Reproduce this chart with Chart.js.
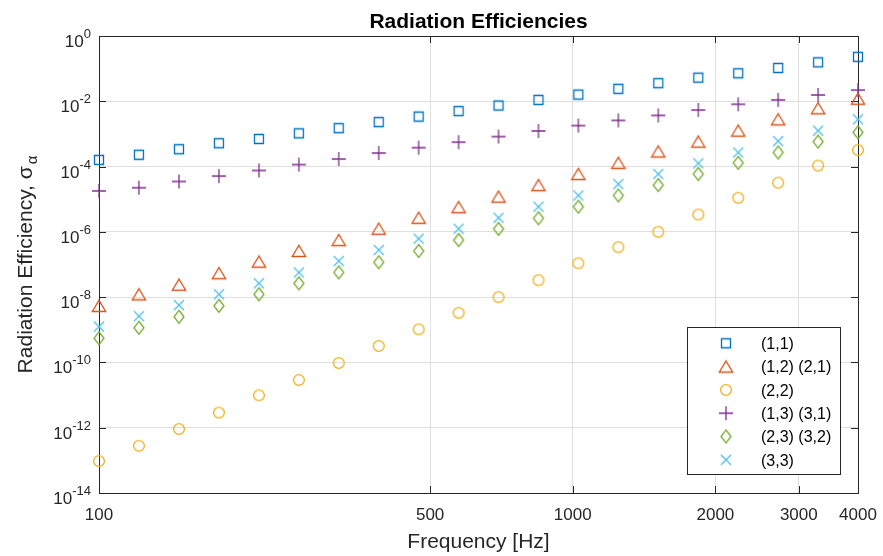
<!DOCTYPE html>
<html>
<head>
<meta charset="utf-8">
<script src="https://cdn.jsdelivr.net/npm/chart.js@4/dist/chart.umd.min.js"></script>
<style>
  html, body { margin: 0; padding: 0; background: #ffffff; }
  #wrap { width: 883px; height: 556px; }
</style>
</head>
<body>
<div id="wrap"><canvas id="chart" width="883" height="556"></canvas></div>
<script>
// Band centre frequencies [Hz]
const freqHz = [100, 121.4, 147.5, 179.1, 217.5, 264.1, 320.6, 389.4, 472.9, 574.2,
                697.1, 846.5, 1027.6, 1247.9, 1515.4, 1840.3, 2234.6, 2713.5, 3295.2, 4000];

// Radiation efficiency per plate mode
const mode11 = [1.6e-4, 2.3e-4, 3.4e-4, 5.2e-4, 7.0e-4, 1.04e-3, 1.5e-3, 2.3e-3, 3.4e-3, 5.0e-3,
                7.4e-3, 1.1e-2, 1.6e-2, 2.4e-2, 3.6e-2, 5.3e-2, 7.2e-2, 1.05e-1, 1.56e-1, 2.3e-1];
const mode12 = [5.4e-9, 1.22e-8, 2.4e-8, 5.4e-8, 1.22e-7, 2.6e-7, 5.6e-7, 1.25e-6, 2.7e-6, 5.7e-6,
                1.2e-5, 2.7e-5, 5.9e-5, 1.3e-4, 2.9e-4, 5.8e-4, 1.26e-3, 2.8e-3, 6.1e-3, 1.2e-2];
const mode22 = [9.5e-14, 2.8e-13, 9.1e-13, 2.9e-12, 9.8e-12, 2.9e-11, 9.6e-11, 3.2e-10, 1.03e-9, 3.3e-9,
                1.0e-8, 3.3e-8, 1.09e-7, 3.4e-7, 1.0e-6, 3.4e-6, 1.1e-5, 3.2e-5, 1.07e-4, 3.2e-4];
const mode13 = [1.8e-5, 2.25e-5, 3.5e-5, 5.1e-5, 7.6e-5, 1.15e-4, 1.7e-4, 2.6e-4, 3.8e-4, 5.6e-4,
                8.3e-4, 1.23e-3, 1.8e-3, 2.6e-3, 3.7e-3, 5.4e-3, 8.1e-3, 1.1e-2, 1.56e-2, 2.2e-2];
const mode23 = [5.5e-10, 1.15e-9, 2.5e-9, 5.4e-9, 1.22e-8, 2.65e-8, 5.7e-8, 1.17e-7, 2.6e-7, 5.6e-7,
                1.23e-6, 2.6e-6, 5.9e-6, 1.3e-5, 2.7e-5, 5.9e-5, 1.3e-4, 2.7e-4, 5.8e-4, 1.12e-3];
const mode33 = [1.25e-9, 2.6e-9, 5.7e-9, 1.22e-8, 2.65e-8, 5.7e-8, 1.28e-7, 2.78e-7, 6.2e-7, 1.25e-6,
                2.7e-6, 5.9e-6, 1.3e-5, 2.9e-5, 5.9e-5, 1.26e-4, 2.7e-4, 6.0e-4, 1.26e-3, 2.8e-3];

const seriesLabels = ['(1,1)', '(1,2) (2,1)', '(2,2)', '(1,3) (3,1)', '(2,3) (3,2)', '(3,3)'];
const seriesValues = [mode11, mode12, mode22, mode13, mode23, mode33];
const seriesMarkers = ['square', 'triangle', 'circle', 'plus', 'diamond', 'cross'];
const seriesColors = ['#0072BD', '#D95319', '#EDB120', '#7E2F8E', '#77AC30', '#4DBEEE'];

const xTickValues = [100, 500, 1000, 2000, 3000, 4000];
const yTickExponents = [0, -2, -4, -6, -8, -10, -12, -14];

const FONT = '"Liberation Sans", Arial, Helvetica, sans-serif';
const INK = '#262626';
const GRID = '#dfdfdf';

// Marker glyphs as small canvases so they can be used as point styles
function markerCanvas(kind, color) {
  const s = 18;
  const c = document.createElement('canvas');
  c.width = s; c.height = s;
  const g = c.getContext('2d');
  const m = s / 2;
  g.strokeStyle = color;
  g.lineWidth = 1.3;
  g.beginPath();
  switch (kind) {
    case 'square':   g.rect(m - 4.5, m - 4.5, 9, 9); break;
    case 'triangle': g.moveTo(m, m - 5.7); g.lineTo(m + 6.7, m + 5.5); g.lineTo(m - 6.7, m + 5.5); g.closePath(); break;
    case 'circle':   g.arc(m, m, 5.4, 0, Math.PI * 2); break;
    case 'plus':     g.moveTo(m - 7, m); g.lineTo(m + 7, m); g.moveTo(m, m - 7); g.lineTo(m, m + 7); break;
    case 'diamond':  g.moveTo(m, m - 6.5); g.lineTo(m + 5, m); g.lineTo(m, m + 6.5); g.lineTo(m - 5, m); g.closePath(); break;
    case 'cross':    g.moveTo(m - 5, m - 5); g.lineTo(m + 5, m + 5); g.moveTo(m + 5, m - 5); g.lineTo(m - 5, m + 5); break;
  }
  g.stroke();
  return c;
}

const markerImages = seriesMarkers.map((k, i) => markerCanvas(k, seriesColors[i]));

const datasets = seriesValues.map((vals, i) => ({
  label: seriesLabels[i],
  data: freqHz.map((f, j) => ({ x: f, y: vals[j] })),
  pointStyle: markerImages[i],
  pointRadius: 7,
  showLine: false,
  clip: false
}));

// Axes frame, inward ticks, superscripted y labels, titles and legend
const decor = {
  id: 'decor',
  beforeDatasetsDraw(chart) {
    const { ctx, chartArea: a, scales: { x, y } } = chart;
    ctx.save();
    ctx.strokeStyle = INK;
    ctx.lineWidth = 1;
    ctx.beginPath();
    xTickValues.forEach(v => {
      const px = Math.round(x.getPixelForValue(v)) + 0.5;
      ctx.moveTo(px, a.bottom); ctx.lineTo(px, a.bottom - 7);
      ctx.moveTo(px, a.top);    ctx.lineTo(px, a.top + 7);
    });
    yTickExponents.forEach(e => {
      const py = Math.round(y.getPixelForValue(Math.pow(10, e))) + 0.5;
      ctx.moveTo(a.left, py);  ctx.lineTo(a.left + 7, py);
      ctx.moveTo(a.right, py); ctx.lineTo(a.right - 7, py);
    });
    ctx.stroke();
    ctx.strokeRect(Math.round(a.left) + 0.5, Math.round(a.top) + 0.5,
                   Math.round(a.right - a.left), Math.round(a.bottom - a.top));
    ctx.restore();
  },
  afterDraw(chart) {
    const { ctx, chartArea: a, scales: { y } } = chart;
    ctx.save();
    ctx.fillStyle = INK;
    ctx.textBaseline = 'alphabetic';

    // y tick labels: 10 with raised exponent
    yTickExponents.forEach(e => {
      const py = y.getPixelForValue(Math.pow(10, e));
      const exp = String(e);
      ctx.font = '13px ' + FONT;
      ctx.textAlign = 'right';
      const ew = ctx.measureText(exp).width;
      ctx.fillText(exp, a.left - 8, py + 2);
      ctx.font = '17px ' + FONT;
      ctx.fillText('10', a.left - 8 - ew, py + 11);
    });

    // y axis title with subscript
    const cy = (a.top + a.bottom) / 2;
    ctx.translate(0, cy);
    ctx.rotate(-Math.PI / 2);
    ctx.textAlign = 'left';
    const main = 'Radiation Efficiency, ';
    ctx.font = '21px ' + FONT;
    const wMain = ctx.measureText(main).width;
    const wSig = ctx.measureText('σ').width;
    ctx.font = '15px ' + FONT;
    const wAl = ctx.measureText('α').width;
    const total = wMain + wSig + 2 + wAl;
    let u = -total / 2;
    ctx.font = '21px ' + FONT;
    ctx.fillText(main, u, 31.5);
    u += wMain;
    ctx.fillText('σ', u, 31.5);
    u += wSig + 2;
    ctx.font = '15px ' + FONT;
    ctx.fillText('α', u, 36.5);
    ctx.setTransform(1, 0, 0, 1, 0, 0);

    // main title
    ctx.fillStyle = '#000000';
    ctx.font = 'bold 21px ' + FONT;
    ctx.textAlign = 'center';
    ctx.fillText('Radiation Efficiencies', (a.left + a.right) / 2, 28);

    // legend
    const bx = 687.5, by = 327.5, bw = 153, bh = 147;
    ctx.fillStyle = '#ffffff';
    ctx.fillRect(bx, by, bw, bh);
    ctx.strokeStyle = INK;
    ctx.lineWidth = 1;
    ctx.strokeRect(bx, by, bw, bh);
    ctx.font = '16px ' + FONT;
    ctx.textAlign = 'left';
    ctx.fillStyle = '#000000';
    seriesLabels.forEach((lab, i) => {
      const ry = 343.3 + i * 23.3;
      const img = markerImages[i];
      ctx.drawImage(img, 726 - img.width / 2, ry - img.height / 2);
      ctx.fillText(lab, 761, ry + 5.8);
    });
    ctx.restore();
  }
};

new Chart(document.getElementById('chart'), {
  type: 'scatter',
  data: { datasets },
  options: {
    responsive: false,
    devicePixelRatio: 1,
    animation: false,
    events: [],
    layout: { padding: { top: 36, right: 25, bottom: 0, left: 0 } },
    plugins: {
      legend: { display: false },
      title: { display: false },
      tooltip: { enabled: false }
    },
    scales: {
      x: {
        type: 'logarithmic',
        min: 100,
        max: 4000,
        afterBuildTicks: s => { s.ticks = xTickValues.map(v => ({ value: v })); },
        afterFit: s => { s.height = 63; s.paddingLeft = 0; s.paddingRight = 0; },
        ticks: {
          autoSkip: false,
          maxRotation: 0,
          minRotation: 0,
          padding: 12,
          color: INK,
          font: { family: FONT, size: 17 },
          callback: v => String(v)
        },
        grid: { color: GRID, drawTicks: false, lineWidth: 1 },
        border: { display: false },
        title: {
          display: true,
          text: 'Frequency [Hz]',
          color: INK,
          font: { family: FONT, size: 21 },
          padding: { top: 0, bottom: 1 }
        }
      },
      y: {
        type: 'logarithmic',
        min: 1e-14,
        max: 1,
        afterBuildTicks: s => { s.ticks = yTickExponents.map(e => ({ value: Math.pow(10, e) })); },
        afterFit: s => { s.width = 99; s.paddingTop = 0; s.paddingBottom = 0; },
        ticks: { display: false },
        grid: { color: GRID, drawTicks: false, lineWidth: 1 },
        border: { display: false }
      }
    }
  },
  plugins: [decor]
});
</script>
</body>
</html>
